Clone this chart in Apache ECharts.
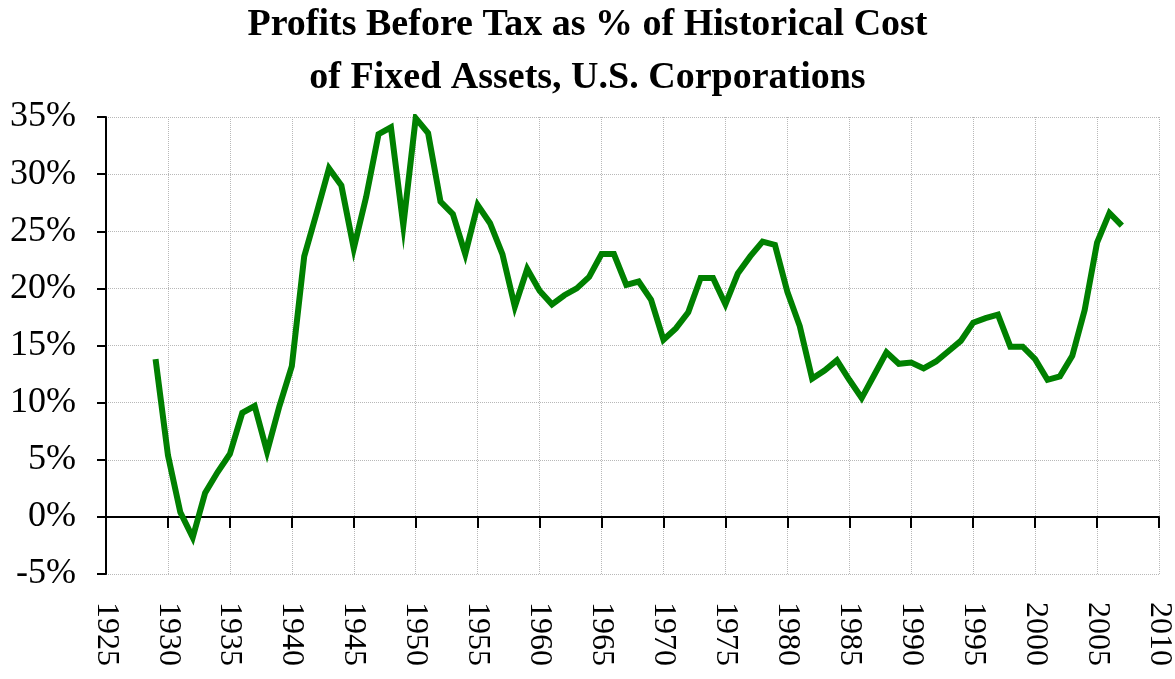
<!DOCTYPE html>
<html>
<head>
<meta charset="utf-8">
<script src="https://cdn.jsdelivr.net/npm/echarts@6/dist/echarts.min.js"></script>
<style>
  html, body { margin: 0; padding: 0; background: #fff; }
  #chart { width: 1175px; height: 679px; }
</style>
</head>
<body>
<div id="chart"></div>
<script>
// years 1929 - 2007
var years = [];
for (var y = 1929; y <= 2007; y++) { years.push(y); }

// profits before tax, % of historical cost of fixed assets
var profitPct = [
    13.8, 5.4, 0.4, -1.8, 2.1, 3.9, 5.5, 9.1, 9.7, 5.7,      // 1929-1938
    9.7, 13.2, 22.8, 26.6, 30.5, 29.0, 23.5, 28.0, 33.5, 34.1, // 1939-1948
    25.5, 34.9, 33.6, 27.6, 26.5, 23.0, 27.3, 25.7, 23.0, 18.4, // 1949-1958
    21.7, 19.8, 18.6, 19.4, 20.0, 21.0, 23.0, 23.0, 20.3, 20.6, // 1959-1968
    19.0, 15.5, 16.5, 17.9, 20.9, 20.9, 18.6, 21.3, 22.8, 24.1, // 1969-1978
    23.8, 19.7, 16.7, 12.1, 12.8, 13.7, 12.0, 10.4, 12.4, 14.4, // 1979-1988
    13.4, 13.5, 13.0, 13.6, 14.5, 15.4, 17.0, 17.4, 17.7, 14.9, // 1989-1998
    14.9, 13.8, 12.0, 12.3, 14.1, 18.1, 24.0, 26.6, 25.5        // 1999-2007
];

var yTicks = { min: -5, max: 35, step: 5 };
var xTicks = { min: 1925, max: 2010, step: 5 };

var chart = echarts.init(document.getElementById('chart'));

var seriesData = [];
for (var i = 0; i < years.length; i++) {
    seriesData.push([years[i], profitPct[i]]);
}

var serif = '"Liberation Serif", "DejaVu Serif", serif';

var option = {
    animation: false,
    title: {
        text: 'Profits Before Tax as % of Historical Cost\nof Fixed Assets, U.S. Corporations',
        left: 'center',
        top: -6,
        textStyle: {
            fontFamily: serif,
            fontWeight: 'bold',
            fontSize: 38,
            lineHeight: 53,
            color: '#000'
        }
    },
    grid: {
        left: 106,
        right: 15,
        top: 117,
        bottom: 105,
        containLabel: false
    },
    xAxis: [{
        type: 'value',
        min: xTicks.min,
        max: xTicks.max,
        interval: xTicks.step,
        axisLine: { onZero: true, lineStyle: { color: '#000', width: 2 } },
        axisTick: { show: true, inside: false, length: 11, lineStyle: { color: '#000', width: 2 } },
        axisLabel: { show: false },
        splitLine: { show: true, lineStyle: { color: '#b8b8b8', type: 'dotted', width: 1 } }
    }, {
        type: 'value',
        min: xTicks.min,
        max: xTicks.max,
        interval: xTicks.step,
        position: 'bottom',
        axisLine: { show: false, onZero: false },
        axisTick: { show: false },
        splitLine: { show: false },
        axisLabel: {
            rotate: -90,
            margin: 28,
            fontFamily: serif,
            fontSize: 32,
            color: '#000',
            formatter: function (v) { return String(v); }
        }
    }],
    yAxis: {
        type: 'value',
        min: yTicks.min,
        max: yTicks.max,
        interval: yTicks.step,
        axisLine: { show: true, lineStyle: { color: '#000', width: 2 } },
        axisTick: { show: true, inside: false, length: 9, lineStyle: { color: '#000', width: 2 } },
        axisLabel: {
            margin: 30,
            fontFamily: serif,
            fontSize: 36,
            color: '#000',
            formatter: '{value}%'
        },
        splitLine: { show: true, lineStyle: { color: '#b8b8b8', type: 'dotted', width: 1 } }
    },
    series: [{
        type: 'line',
        xAxisIndex: 0,
        data: seriesData,
        showSymbol: false,
        symbol: 'none',
        lineStyle: { color: '#008000', width: 6, join: 'miter' },
        z: 5
    }]
};
chart.setOption(option);
</script>
</body>
</html>
